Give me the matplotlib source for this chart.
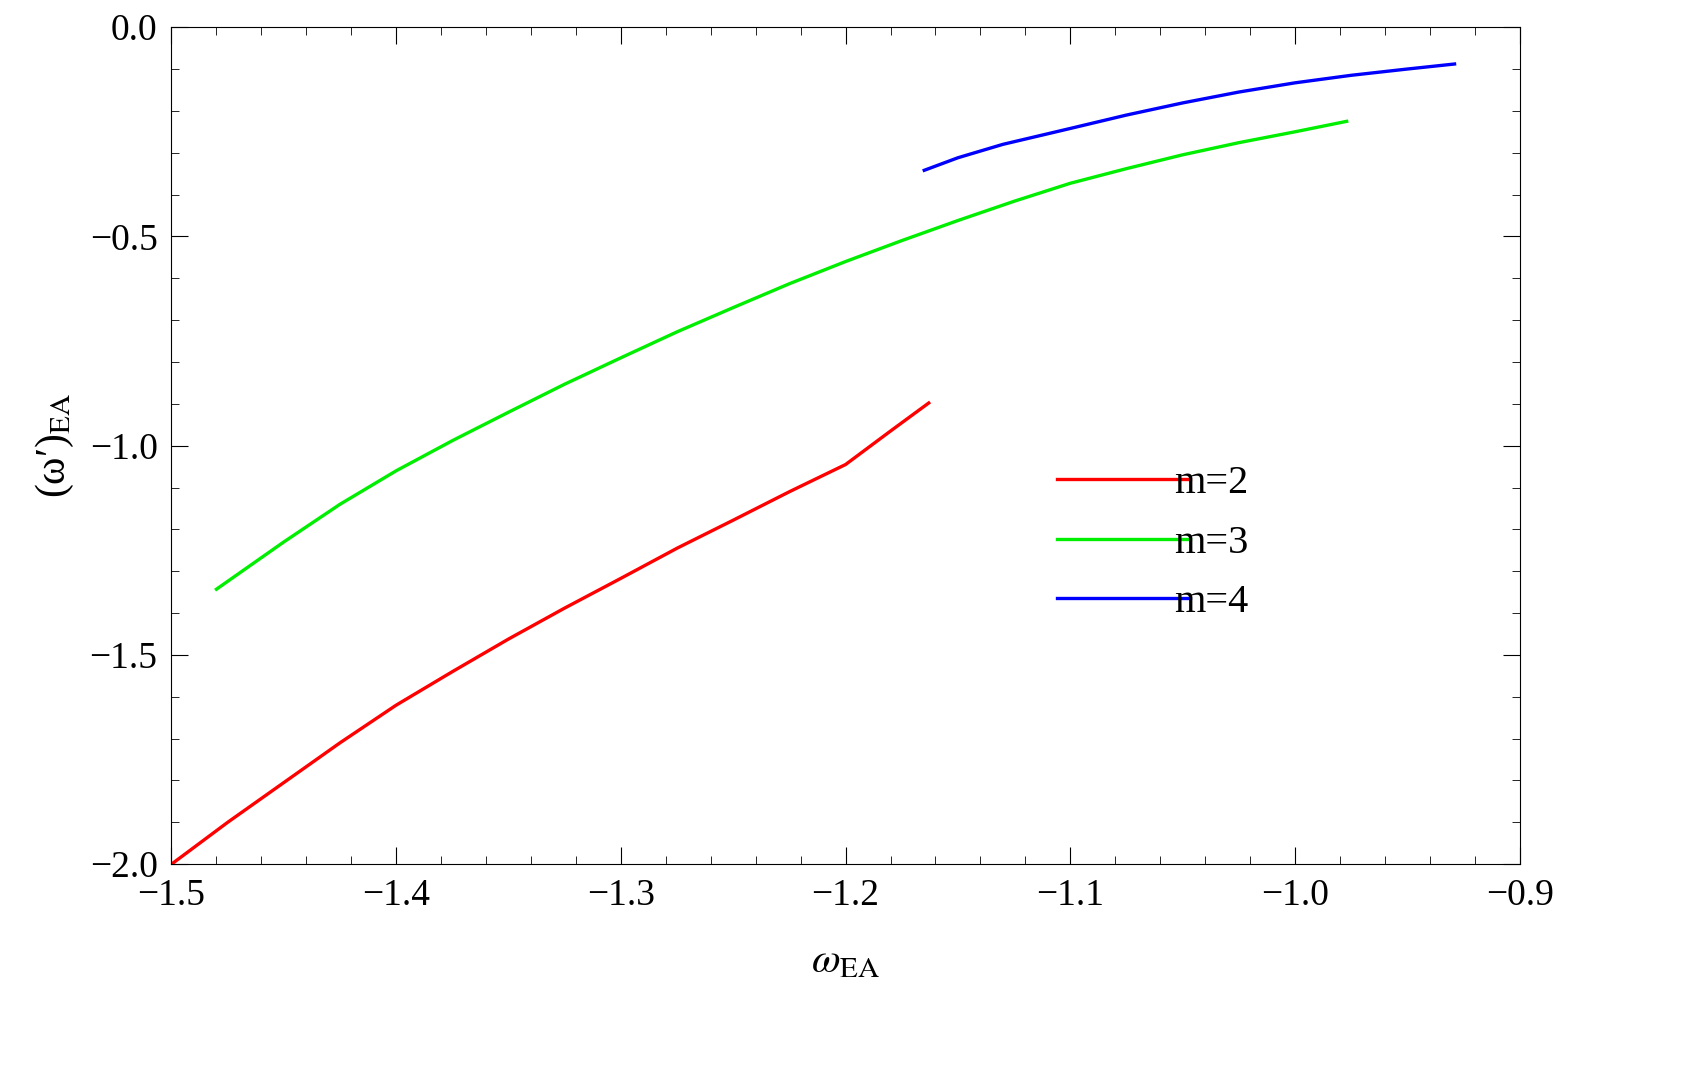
import matplotlib.pyplot as plt
from matplotlib.ticker import MultipleLocator, FuncFormatter

plt.rcParams['font.family'] = ['Liberation Serif', 'DejaVu Serif']
plt.rcParams['mathtext.fontset'] = 'stix'

# values
m2_x = [-1.500, -1.475, -1.450, -1.425, -1.400, -1.375, -1.350, -1.325, -1.300,
        -1.275, -1.250, -1.225, -1.200, -1.180, -1.163]
m2_y = [-2.000, -1.900, -1.805, -1.710, -1.620, -1.540, -1.462, -1.388, -1.317,
        -1.245, -1.178, -1.110, -1.045, -0.965, -0.898]
m3_x = [-1.480, -1.450, -1.425, -1.400, -1.375, -1.350, -1.325, -1.300, -1.275,
        -1.250, -1.225, -1.200, -1.175, -1.150, -1.125, -1.100, -1.075, -1.050,
        -1.025, -1.000, -0.977]
m3_y = [-1.343, -1.230, -1.140, -1.060, -0.988, -0.920, -0.853, -0.790, -0.728,
        -0.670, -0.613, -0.560, -0.510, -0.462, -0.416, -0.373, -0.338, -0.305,
        -0.276, -0.250, -0.225]
m4_x = [-1.165, -1.150, -1.130, -1.100, -1.075, -1.050, -1.025, -1.000, -0.975, -0.950, -0.929]
m4_y = [-0.342, -0.312, -0.280, -0.242, -0.210, -0.181, -0.155, -0.133, -0.115, -0.100, -0.088]
labels = ["m=2", "m=3", "m=4"]
colors = ["#ff0000", "#00ee00", "#0000ff"]

fig = plt.figure(figsize=(16.98, 10.87), dpi=100)
ax = fig.add_axes([0.101, 0.205, 0.794, 0.770])
for xs, ys, lab, c in zip([m2_x, m3_x, m4_x], [m2_y, m3_y, m4_y], labels, colors):
    ax.plot(xs, ys, color=c, lw=2.4, label=lab)

ax.set_xlim(-1.5, -0.9)
ax.set_ylim(-2.0, 0.0)
ax.xaxis.set_major_locator(MultipleLocator(0.1))
ax.xaxis.set_minor_locator(MultipleLocator(0.02))
ax.yaxis.set_major_locator(MultipleLocator(0.5))
ax.yaxis.set_minor_locator(MultipleLocator(0.1))
fmt = FuncFormatter(lambda v, p: f"{v:.1f}".replace("-", "\u2212"))
ax.xaxis.set_major_formatter(fmt)
ax.yaxis.set_major_formatter(fmt)
ax.tick_params(which='both', direction='in', top=True, right=True, labelsize=27, pad=10)
ax.tick_params(which='major', length=12)
ax.tick_params(which='minor', length=6)
ax.set_xlabel(r"$\omega_{\rm EA}$", fontsize=30, labelpad=22)
ax.set_ylabel("(\u03c9\u2032)$_{\\rm EA}$", fontsize=30, labelpad=10)

leg = ax.legend(loc='upper left', bbox_to_anchor=(0.63, 0.52), frameon=False,
                fontsize=29, handlelength=3.3, handletextpad=-0.4, labelspacing=0.55)
fig.savefig("out.png", dpi=100)
